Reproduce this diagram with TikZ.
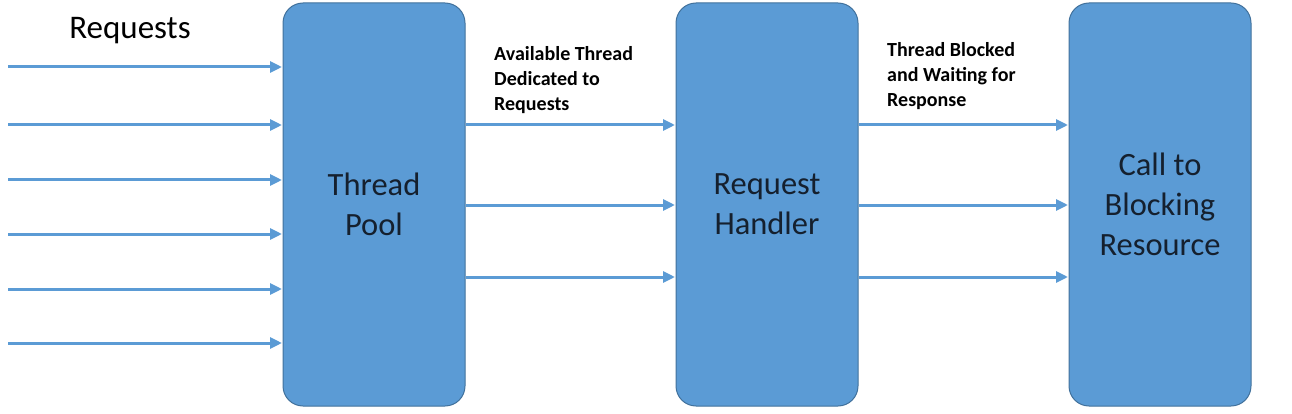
\documentclass[tikz,border=0pt]{standalone}
\usepackage{fontspec}
\setmainfont{Carlito}
\usetikzlibrary{arrows.meta}
\definecolor{boxfill}{HTML}{5B9BD5}
\definecolor{boxline}{HTML}{41719C}
\definecolor{boxtext}{HTML}{15202E}
\tikzset{
  blockbox/.style={draw=boxline, line width=1pt, fill=boxfill, rounded corners=20pt,
    minimum width=182pt, minimum height=403pt, inner sep=0pt, text=boxtext,
    align=center, font=\fontsize{32.5}{40}\selectfont},
  flow/.style={draw=boxfill, line width=3pt, -{Triangle[length=12pt,width=11pt]}, shorten >=0.5pt},
  lbl/.style={anchor=north west, inner sep=0pt, align=left, font=\fontsize{20}{25}\selectfont\bfseries}
}
\begin{document}
\begin{tikzpicture}[x=1pt,y=-1pt]
\useasboundingbox (0,0) rectangle (1292,414);
\node[blockbox] (pool) at (374,204.5) {Thread\\Pool};
\node[blockbox] (handler) at (767,204.5) {Request\\Handler};
\node[blockbox] (res) at (1160,204.5) {Call to\\Blocking\\Resource};
\node[anchor=north, inner sep=0pt, font=\fontsize{33}{36}\selectfont] (req) at (130,17) {Requests};
\foreach \y [count=\i] in {67,125,180,234,289,343} {
  \coordinate (s\i) at (8,\y);
  \draw[flow] (s\i) -- (s\i -| pool.west);
}
\foreach \y [count=\i] in {125,205,277} {
  \coordinate (a\i) at (465,\y);
  \draw[flow] (a\i -| pool.east) -- (a\i -| handler.west);
  \draw[flow] (a\i -| handler.east) -- (a\i -| res.west);
}
\node[lbl] (l1) at (494,46) {Available Thread\\Dedicated to\\Requests};
\node[lbl] (l2) at (887,42) {Thread Blocked\\and Waiting for\\Response};
\end{tikzpicture}
\end{document}
